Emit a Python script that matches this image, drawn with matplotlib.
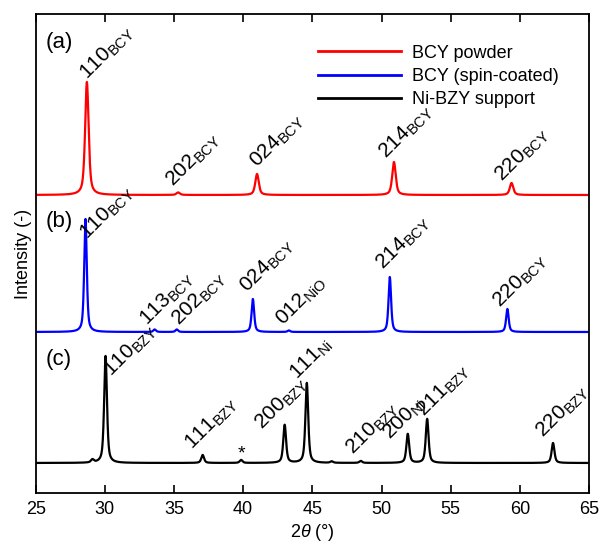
import numpy as np
import matplotlib
matplotlib.use("Agg")
import matplotlib.pyplot as plt

plt.rcParams['font.family'] = ['Liberation Sans', 'DejaVu Sans']
plt.rcParams['mathtext.fontset'] = 'custom'
plt.rcParams['mathtext.rm'] = 'Liberation Sans'
plt.rcParams['mathtext.it'] = 'Liberation Sans:italic'
plt.rcParams['mathtext.bf'] = 'Liberation Sans:bold'

# ---------------- data ----------------
series_names = ["BCY powder", "BCY (spin-coated)", "Ni-BZY support"]
series_colors = ["#ff0000", "#0000ff", "#000000"]
series_offsets = [298, 161, 30]

# (a) BCY powder
a_pos = [28.7, 35.3, 41.0, 50.9, 59.4]
a_hgt = [113, 2.5, 21, 33, 12]
a_lab = ["110", "202", "024", "214", "220"]
a_sub = ["BCY", "BCY", "BCY", "BCY", "BCY"]

# (b) BCY spin-coated
b_pos = [28.6, 33.6, 35.2, 40.7, 43.3, 50.6, 59.1]
b_hgt = [113, 2.5, 2.5, 33, 1.5, 55, 23]
b_lab = ["110", "113", "202", "024", "012", "214", "220"]
b_sub = ["BCY", "BCY", "BCY", "BCY", "NiO", "BCY", "BCY"]

# (c) Ni-BZY support
c_pos = [29.1, 30.05, 37.07, 39.85, 43.0, 44.6, 46.4, 48.5, 51.9, 53.3, 62.4]
c_hgt = [3, 107, 8, 3, 38, 80, 1.5, 2, 29, 44, 20]
c_lab = [None, "110", "111", "*", "200", "111", None, "210", "200", "211", "220"]
c_sub = [None, "BZY", "BZY", None, "BZY", "Ni", None, "BZY", "Ni", "BZY", "BZY"]

x_ticks = [25, 30, 35, 40, 45, 50, 55, 60, 65]
panel_letters = ["(a)", "(b)", "(c)"]

# ---------------- layout (label offsets in pixels from peak top) ----------------
a_off = [(0, 2), (-5, 5), (0, 6), (-8, 3), (-9, 1)]
b_off = [(2, -21), (-7, 3), (2, 3), (-6, 6), (-6, 4), (-7, 7), (-7, 1)]
c_off = [None, (6, -21), (-10, 5), (0, -2), (-22, -5), (-10, 3), None,
         (-8, 6), (-18, -6), (-3, 2), (-10, 5)]
series_fwhm = [0.30, 0.22, 0.24]

def pv(x, c, fwhm=0.22, eta=0.6):
    g = np.exp(-4 * np.log(2) * ((x - c) / fwhm) ** 2)
    l = 1.0 / (1.0 + 4 * ((x - c) / fwhm) ** 2)
    return eta * l + (1 - eta) * g

x = np.linspace(25, 65, 4001)

fig = plt.figure(figsize=(5.99, 5.44), dpi=100)
ax = fig.add_axes([0.0596, 0.0938, 0.9237, 0.8805])

all_pos = [a_pos, b_pos, c_pos]
all_hgt = [a_hgt, b_hgt, c_hgt]
all_lab = [a_lab, b_lab, c_lab]
all_sub = [a_sub, b_sub, c_sub]
all_off = [a_off, b_off, c_off]

for k in range(3):
    y = np.full_like(x, series_offsets[k], dtype=float)
    for p, h in zip(all_pos[k], all_hgt[k]):
        y += h * pv(x, p, fwhm=series_fwhm[k])
    ax.plot(x, y, color=series_colors[k], lw=1.6, label=series_names[k])
    for p, h, lab, sub, off in zip(all_pos[k], all_hgt[k], all_lab[k],
                                   all_sub[k], all_off[k]):
        if lab is None:
            continue
        top = series_offsets[k] + h
        if lab == "*":
            ax.annotate("*", xy=(p, top), xytext=off, textcoords='offset pixels',
                        ha='center', va='bottom', fontsize=14)
            continue
        s = lab + r"$_{\mathrm{" + sub + "}}$"
        ax.annotate(s, xy=(p, top), xytext=off, textcoords='offset pixels',
                    rotation=45, rotation_mode='anchor', ha='left',
                    va='baseline', fontsize=15)

panel_y = [0.9415, 0.566, 0.278]
for lt, py in zip(panel_letters, panel_y):
    ax.text(0.018, py, lt, transform=ax.transAxes, fontsize=16,
            ha='left', va='center')

ax.set_xlim(25, 65)
ax.set_ylim(0, 479)
ax.set_xticks(x_ticks)
ax.set_yticks([])
ax.tick_params(axis='x', direction='in', top=True, length=6, width=1.2,
               labelsize=13, pad=6)
for sp in ax.spines.values():
    sp.set_linewidth(1.3)
ax.set_xlabel(r"2$\it{\theta}$ (°)", fontsize=13, labelpad=3)
ax.set_ylabel("Intensity (-)", fontsize=13, labelpad=3)

leg = ax.legend(loc='upper right', bbox_to_anchor=(0.975, 0.97), frameon=False,
                fontsize=13, handlelength=4.6, handletextpad=0.6,
                labelspacing=0.35)
for line in leg.get_lines():
    line.set_linewidth(2)

fig.savefig("out.png", dpi=100)
